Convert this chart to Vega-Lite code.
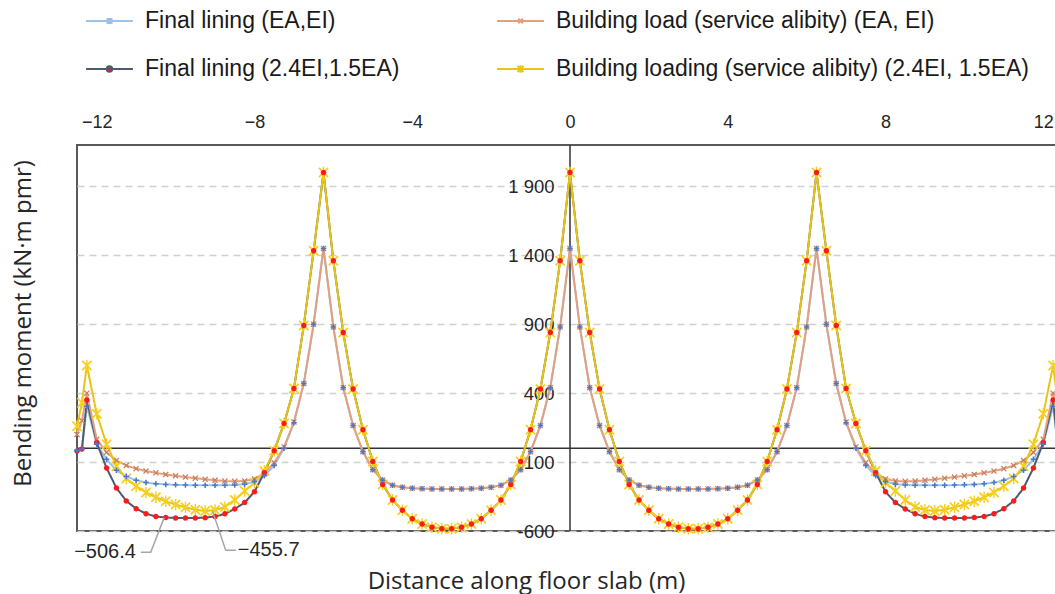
{
  "$schema": "https://vega.github.io/schema/vega-lite/v6.json",
  "width": 986,
  "height": 386,
  "autosize": {"type": "none"},
  "padding": {"left": 77, "top": 145, "right": 0, "bottom": 63},
  "background": "white",
  "config": {"view": {"stroke": "#595959", "strokeWidth": 2}, "font": "Liberation Sans"},
  "data": {"values": [
    {"s":"A","x":-12.5,"y":-15},{"s":"A","x":-12.375,"y":-5},{"s":"A","x":-12.25,"y":305},{"s":"A","x":-12,"y":30},{"s":"A","x":-11.75,"y":-80},{"s":"A","x":-11.5,"y":-160},{"s":"A","x":-11.25,"y":-205},{"s":"A","x":-11,"y":-232},{"s":"A","x":-10.75,"y":-248},{"s":"A","x":-10.5,"y":-257},{"s":"A","x":-10.25,"y":-262},{"s":"A","x":-10,"y":-265},{"s":"A","x":-9.75,"y":-267},{"s":"A","x":-9.5,"y":-268},{"s":"A","x":-9.25,"y":-268},{"s":"A","x":-9,"y":-268},{"s":"A","x":-8.75,"y":-268},{"s":"A","x":-8.5,"y":-266},{"s":"A","x":-8.25,"y":-260},{"s":"A","x":-8,"y":-242},{"s":"A","x":-7.75,"y":-200},{"s":"A","x":-7.5,"y":-125},{"s":"A","x":-7.25,"y":0},{"s":"A","x":-7,"y":185},{"s":"A","x":-6.75,"y":470},{"s":"A","x":-6.5,"y":900},
    {"s":"A","x":-6.25,"y":1450},{"s":"A","x":-6,"y":880},{"s":"A","x":-5.75,"y":440},{"s":"A","x":-5.5,"y":165},{"s":"A","x":-5.25,"y":-25},{"s":"A","x":-5,"y":-155},{"s":"A","x":-4.75,"y":-230},{"s":"A","x":-4.5,"y":-268},{"s":"A","x":-4.25,"y":-283},{"s":"A","x":-4,"y":-290},{"s":"A","x":-3.75,"y":-293},{"s":"A","x":-3.5,"y":-295},{"s":"A","x":-3.25,"y":-295},{"s":"A","x":-3,"y":-295},{"s":"A","x":-2.75,"y":-295},{"s":"A","x":-2.5,"y":-293},{"s":"A","x":-2.25,"y":-290},{"s":"A","x":-2,"y":-283},{"s":"A","x":-1.75,"y":-268},{"s":"A","x":-1.5,"y":-230},{"s":"A","x":-1.25,"y":-155},{"s":"A","x":-1,"y":-25},{"s":"A","x":-0.75,"y":165},{"s":"A","x":-0.5,"y":440},{"s":"A","x":-0.25,"y":880},
    {"s":"A","x":0,"y":1450},{"s":"A","x":0.25,"y":880},{"s":"A","x":0.5,"y":440},{"s":"A","x":0.75,"y":165},{"s":"A","x":1,"y":-25},{"s":"A","x":1.25,"y":-155},{"s":"A","x":1.5,"y":-230},{"s":"A","x":1.75,"y":-268},{"s":"A","x":2,"y":-283},{"s":"A","x":2.25,"y":-290},{"s":"A","x":2.5,"y":-293},{"s":"A","x":2.75,"y":-295},{"s":"A","x":3,"y":-295},{"s":"A","x":3.25,"y":-295},{"s":"A","x":3.5,"y":-295},{"s":"A","x":3.75,"y":-293},{"s":"A","x":4,"y":-290},{"s":"A","x":4.25,"y":-283},{"s":"A","x":4.5,"y":-268},{"s":"A","x":4.75,"y":-230},{"s":"A","x":5,"y":-155},{"s":"A","x":5.25,"y":-25},{"s":"A","x":5.5,"y":165},{"s":"A","x":5.75,"y":440},{"s":"A","x":6,"y":880},{"s":"A","x":6.25,"y":1450},
    {"s":"A","x":6.5,"y":900},{"s":"A","x":6.75,"y":470},{"s":"A","x":7,"y":185},{"s":"A","x":7.25,"y":0},{"s":"A","x":7.5,"y":-125},{"s":"A","x":7.75,"y":-200},{"s":"A","x":8,"y":-242},{"s":"A","x":8.25,"y":-260},{"s":"A","x":8.5,"y":-266},{"s":"A","x":8.75,"y":-268},{"s":"A","x":9,"y":-268},{"s":"A","x":9.25,"y":-268},{"s":"A","x":9.5,"y":-268},{"s":"A","x":9.75,"y":-267},{"s":"A","x":10,"y":-265},{"s":"A","x":10.25,"y":-262},{"s":"A","x":10.5,"y":-257},{"s":"A","x":10.75,"y":-248},{"s":"A","x":11,"y":-232},{"s":"A","x":11.25,"y":-205},{"s":"A","x":11.5,"y":-160},{"s":"A","x":11.75,"y":-80},{"s":"A","x":12,"y":30},{"s":"A","x":12.25,"y":305},{"s":"A","x":12.375,"y":-5},{"s":"A","x":12.5,"y":-15},

    {"s":"B","x":-12.5,"y":-20},{"s":"B","x":-12.375,"y":-5},{"s":"B","x":-12.25,"y":350},{"s":"B","x":-12,"y":40},{"s":"B","x":-11.75,"y":-143},{"s":"B","x":-11.5,"y":-288},{"s":"B","x":-11.25,"y":-382},{"s":"B","x":-11,"y":-438},{"s":"B","x":-10.75,"y":-474},{"s":"B","x":-10.5,"y":-495},{"s":"B","x":-10.25,"y":-502},{"s":"B","x":-10,"y":-505},{"s":"B","x":-9.75,"y":-506.4},{"s":"B","x":-9.5,"y":-506},{"s":"B","x":-9.25,"y":-503},{"s":"B","x":-9,"y":-495},{"s":"B","x":-8.75,"y":-475},{"s":"B","x":-8.5,"y":-440},{"s":"B","x":-8.25,"y":-394},{"s":"B","x":-8,"y":-315},{"s":"B","x":-7.75,"y":-177},{"s":"B","x":-7.5,"y":-18},{"s":"B","x":-7.25,"y":180},{"s":"B","x":-7,"y":433},{"s":"B","x":-6.75,"y":890},{"s":"B","x":-6.5,"y":1432},
    {"s":"B","x":-6.25,"y":2000},{"s":"B","x":-6,"y":1360},{"s":"B","x":-5.75,"y":840},{"s":"B","x":-5.5,"y":430},{"s":"B","x":-5.25,"y":135},{"s":"B","x":-5,"y":-95},{"s":"B","x":-4.75,"y":-262},{"s":"B","x":-4.5,"y":-375},{"s":"B","x":-4.25,"y":-450},{"s":"B","x":-4,"y":-512},{"s":"B","x":-3.75,"y":-550},{"s":"B","x":-3.5,"y":-572},{"s":"B","x":-3.25,"y":-583},{"s":"B","x":-3,"y":-583},{"s":"B","x":-2.75,"y":-572},{"s":"B","x":-2.5,"y":-550},{"s":"B","x":-2.25,"y":-512},{"s":"B","x":-2,"y":-450},{"s":"B","x":-1.75,"y":-375},{"s":"B","x":-1.5,"y":-262},{"s":"B","x":-1.25,"y":-95},{"s":"B","x":-1,"y":135},{"s":"B","x":-0.75,"y":430},{"s":"B","x":-0.5,"y":840},{"s":"B","x":-0.25,"y":1360},
    {"s":"B","x":0,"y":2000},{"s":"B","x":0.25,"y":1360},{"s":"B","x":0.5,"y":840},{"s":"B","x":0.75,"y":430},{"s":"B","x":1,"y":135},{"s":"B","x":1.25,"y":-95},{"s":"B","x":1.5,"y":-262},{"s":"B","x":1.75,"y":-375},{"s":"B","x":2,"y":-450},{"s":"B","x":2.25,"y":-512},{"s":"B","x":2.5,"y":-550},{"s":"B","x":2.75,"y":-572},{"s":"B","x":3,"y":-583},{"s":"B","x":3.25,"y":-583},{"s":"B","x":3.5,"y":-572},{"s":"B","x":3.75,"y":-550},{"s":"B","x":4,"y":-512},{"s":"B","x":4.25,"y":-450},{"s":"B","x":4.5,"y":-375},{"s":"B","x":4.75,"y":-262},{"s":"B","x":5,"y":-95},{"s":"B","x":5.25,"y":135},{"s":"B","x":5.5,"y":430},{"s":"B","x":5.75,"y":840},{"s":"B","x":6,"y":1360},{"s":"B","x":6.25,"y":2000},
    {"s":"B","x":6.5,"y":1432},{"s":"B","x":6.75,"y":890},{"s":"B","x":7,"y":433},{"s":"B","x":7.25,"y":180},{"s":"B","x":7.5,"y":-18},{"s":"B","x":7.75,"y":-177},{"s":"B","x":8,"y":-315},{"s":"B","x":8.25,"y":-394},{"s":"B","x":8.5,"y":-440},{"s":"B","x":8.75,"y":-475},{"s":"B","x":9,"y":-495},{"s":"B","x":9.25,"y":-503},{"s":"B","x":9.5,"y":-506},{"s":"B","x":9.75,"y":-506.4},{"s":"B","x":10,"y":-505},{"s":"B","x":10.25,"y":-502},{"s":"B","x":10.5,"y":-495},{"s":"B","x":10.75,"y":-474},{"s":"B","x":11,"y":-438},{"s":"B","x":11.25,"y":-382},{"s":"B","x":11.5,"y":-288},{"s":"B","x":11.75,"y":-143},{"s":"B","x":12,"y":40},{"s":"B","x":12.25,"y":350},{"s":"B","x":12.375,"y":-5},{"s":"B","x":12.5,"y":-20},

    {"s":"C","x":-12.5,"y":100},{"s":"C","x":-12.375,"y":200},{"s":"C","x":-12.25,"y":400},{"s":"C","x":-12,"y":65},{"s":"C","x":-11.75,"y":-30},{"s":"C","x":-11.5,"y":-88},{"s":"C","x":-11.25,"y":-125},{"s":"C","x":-11,"y":-148},{"s":"C","x":-10.75,"y":-165},{"s":"C","x":-10.5,"y":-178},{"s":"C","x":-10.25,"y":-190},{"s":"C","x":-10,"y":-200},{"s":"C","x":-9.75,"y":-209},{"s":"C","x":-9.5,"y":-217},{"s":"C","x":-9.25,"y":-225},{"s":"C","x":-9,"y":-232},{"s":"C","x":-8.75,"y":-238},{"s":"C","x":-8.5,"y":-240},{"s":"C","x":-8.25,"y":-237},{"s":"C","x":-8,"y":-222},{"s":"C","x":-7.75,"y":-180},{"s":"C","x":-7.5,"y":-105},{"s":"C","x":-7.25,"y":10},{"s":"C","x":-7,"y":190},{"s":"C","x":-6.75,"y":470},{"s":"C","x":-6.5,"y":900},
    {"s":"C","x":-6.25,"y":1450},{"s":"C","x":-6,"y":880},{"s":"C","x":-5.75,"y":440},{"s":"C","x":-5.5,"y":165},{"s":"C","x":-5.25,"y":-25},{"s":"C","x":-5,"y":-155},{"s":"C","x":-4.75,"y":-230},{"s":"C","x":-4.5,"y":-268},{"s":"C","x":-4.25,"y":-283},{"s":"C","x":-4,"y":-290},{"s":"C","x":-3.75,"y":-293},{"s":"C","x":-3.5,"y":-295},{"s":"C","x":-3.25,"y":-295},{"s":"C","x":-3,"y":-295},{"s":"C","x":-2.75,"y":-295},{"s":"C","x":-2.5,"y":-293},{"s":"C","x":-2.25,"y":-290},{"s":"C","x":-2,"y":-283},{"s":"C","x":-1.75,"y":-268},{"s":"C","x":-1.5,"y":-230},{"s":"C","x":-1.25,"y":-155},{"s":"C","x":-1,"y":-25},{"s":"C","x":-0.75,"y":165},{"s":"C","x":-0.5,"y":440},{"s":"C","x":-0.25,"y":880},
    {"s":"C","x":0,"y":1450},{"s":"C","x":0.25,"y":880},{"s":"C","x":0.5,"y":440},{"s":"C","x":0.75,"y":165},{"s":"C","x":1,"y":-25},{"s":"C","x":1.25,"y":-155},{"s":"C","x":1.5,"y":-230},{"s":"C","x":1.75,"y":-268},{"s":"C","x":2,"y":-283},{"s":"C","x":2.25,"y":-290},{"s":"C","x":2.5,"y":-293},{"s":"C","x":2.75,"y":-295},{"s":"C","x":3,"y":-295},{"s":"C","x":3.25,"y":-295},{"s":"C","x":3.5,"y":-295},{"s":"C","x":3.75,"y":-293},{"s":"C","x":4,"y":-290},{"s":"C","x":4.25,"y":-283},{"s":"C","x":4.5,"y":-268},{"s":"C","x":4.75,"y":-230},{"s":"C","x":5,"y":-155},{"s":"C","x":5.25,"y":-25},{"s":"C","x":5.5,"y":165},{"s":"C","x":5.75,"y":440},{"s":"C","x":6,"y":880},{"s":"C","x":6.25,"y":1450},
    {"s":"C","x":6.5,"y":900},{"s":"C","x":6.75,"y":470},{"s":"C","x":7,"y":190},{"s":"C","x":7.25,"y":10},{"s":"C","x":7.5,"y":-105},{"s":"C","x":7.75,"y":-180},{"s":"C","x":8,"y":-222},{"s":"C","x":8.25,"y":-237},{"s":"C","x":8.5,"y":-240},{"s":"C","x":8.75,"y":-238},{"s":"C","x":9,"y":-232},{"s":"C","x":9.25,"y":-225},{"s":"C","x":9.5,"y":-217},{"s":"C","x":9.75,"y":-209},{"s":"C","x":10,"y":-200},{"s":"C","x":10.25,"y":-190},{"s":"C","x":10.5,"y":-178},{"s":"C","x":10.75,"y":-165},{"s":"C","x":11,"y":-148},{"s":"C","x":11.25,"y":-125},{"s":"C","x":11.5,"y":-88},{"s":"C","x":11.75,"y":-30},{"s":"C","x":12,"y":65},{"s":"C","x":12.25,"y":400},{"s":"C","x":12.375,"y":200},{"s":"C","x":12.5,"y":100},

    {"s":"D","x":-12.5,"y":160},{"s":"D","x":-12.375,"y":330},{"s":"D","x":-12.25,"y":600},{"s":"D","x":-12,"y":250},{"s":"D","x":-11.75,"y":30},{"s":"D","x":-11.5,"y":-130},{"s":"D","x":-11.25,"y":-220},{"s":"D","x":-11,"y":-275},{"s":"D","x":-10.75,"y":-320},{"s":"D","x":-10.5,"y":-355},{"s":"D","x":-10.25,"y":-385},{"s":"D","x":-10,"y":-408},{"s":"D","x":-9.75,"y":-428},{"s":"D","x":-9.5,"y":-445},{"s":"D","x":-9.25,"y":-455.7},{"s":"D","x":-9,"y":-448},{"s":"D","x":-8.75,"y":-425},{"s":"D","x":-8.5,"y":-375},{"s":"D","x":-8.25,"y":-310},{"s":"D","x":-8,"y":-250},{"s":"D","x":-7.75,"y":-165},{"s":"D","x":-7.5,"y":-18},{"s":"D","x":-7.25,"y":180},{"s":"D","x":-7,"y":433},{"s":"D","x":-6.75,"y":890},{"s":"D","x":-6.5,"y":1432},
    {"s":"D","x":-6.25,"y":2000},{"s":"D","x":-6,"y":1360},{"s":"D","x":-5.75,"y":840},{"s":"D","x":-5.5,"y":430},{"s":"D","x":-5.25,"y":135},{"s":"D","x":-5,"y":-95},{"s":"D","x":-4.75,"y":-262},{"s":"D","x":-4.5,"y":-375},{"s":"D","x":-4.25,"y":-450},{"s":"D","x":-4,"y":-512},{"s":"D","x":-3.75,"y":-550},{"s":"D","x":-3.5,"y":-572},{"s":"D","x":-3.25,"y":-583},{"s":"D","x":-3,"y":-583},{"s":"D","x":-2.75,"y":-572},{"s":"D","x":-2.5,"y":-550},{"s":"D","x":-2.25,"y":-512},{"s":"D","x":-2,"y":-450},{"s":"D","x":-1.75,"y":-375},{"s":"D","x":-1.5,"y":-262},{"s":"D","x":-1.25,"y":-95},{"s":"D","x":-1,"y":135},{"s":"D","x":-0.75,"y":430},{"s":"D","x":-0.5,"y":840},{"s":"D","x":-0.25,"y":1360},
    {"s":"D","x":0,"y":2000},{"s":"D","x":0.25,"y":1360},{"s":"D","x":0.5,"y":840},{"s":"D","x":0.75,"y":430},{"s":"D","x":1,"y":135},{"s":"D","x":1.25,"y":-95},{"s":"D","x":1.5,"y":-262},{"s":"D","x":1.75,"y":-375},{"s":"D","x":2,"y":-450},{"s":"D","x":2.25,"y":-512},{"s":"D","x":2.5,"y":-550},{"s":"D","x":2.75,"y":-572},{"s":"D","x":3,"y":-583},{"s":"D","x":3.25,"y":-583},{"s":"D","x":3.5,"y":-572},{"s":"D","x":3.75,"y":-550},{"s":"D","x":4,"y":-512},{"s":"D","x":4.25,"y":-450},{"s":"D","x":4.5,"y":-375},{"s":"D","x":4.75,"y":-262},{"s":"D","x":5,"y":-95},{"s":"D","x":5.25,"y":135},{"s":"D","x":5.5,"y":430},{"s":"D","x":5.75,"y":840},{"s":"D","x":6,"y":1360},{"s":"D","x":6.25,"y":2000},
    {"s":"D","x":6.5,"y":1432},{"s":"D","x":6.75,"y":890},{"s":"D","x":7,"y":433},{"s":"D","x":7.25,"y":180},{"s":"D","x":7.5,"y":-18},{"s":"D","x":7.75,"y":-165},{"s":"D","x":8,"y":-250},{"s":"D","x":8.25,"y":-310},{"s":"D","x":8.5,"y":-375},{"s":"D","x":8.75,"y":-425},{"s":"D","x":9,"y":-448},{"s":"D","x":9.25,"y":-455.7},{"s":"D","x":9.5,"y":-445},{"s":"D","x":9.75,"y":-428},{"s":"D","x":10,"y":-408},{"s":"D","x":10.25,"y":-385},{"s":"D","x":10.5,"y":-355},{"s":"D","x":10.75,"y":-320},{"s":"D","x":11,"y":-275},{"s":"D","x":11.25,"y":-220},{"s":"D","x":11.5,"y":-130},{"s":"D","x":11.75,"y":30},{"s":"D","x":12,"y":250},{"s":"D","x":12.25,"y":600},{"s":"D","x":12.375,"y":330},{"s":"D","x":12.5,"y":160}
  ]},
  "layer": [
    {
      "data": {"values": [{}]},
      "mark": {"type": "rule", "color": "#333333", "strokeWidth": 1.5},
      "encoding": {"y": {"datum": 0, "type": "quantitative", "scale": {"domain": [-600, 2200], "nice": false, "zero": false}}}
    },
    {
      "data": {"values": [{}]},
      "mark": {"type": "rule", "color": "#333333", "strokeWidth": 1.5},
      "encoding": {"x": {"datum": 0, "type": "quantitative", "scale": {"domain": [-12.5, 12.5], "nice": false, "zero": false}}}
    },
    {
      "mark": {"type": "line", "strokeWidth": 2},
      "encoding": {
        "x": {"field": "x", "type": "quantitative", "scale": {"domain": [-12.5, 12.5], "nice": false, "zero": false},
          "axis": {"orient": "top", "values": [-12, -8, -4, 0, 4, 8, 12], "labelExpr": "datum.value < 0 ? '−' + abs(datum.value) : '' + datum.value",
            "ticks": false, "tickSize": 0, "domain": false, "grid": false, "labelPadding": 14, "labelFont": "Liberation Sans", "labelFontSize": 18, "labelColor": "#262626", "labelFlush": false,
            "title": "Distance along floor slab (m)", "titleFont": "Open Sans", "titleFontSize": 24, "titleFontWeight": "normal", "titleColor": "#262626",
            "titleX": 449, "titleY": 443, "titleBaseline": "alphabetic", "titleAlign": "center"}},
        "y": {"field": "y", "type": "quantitative", "scale": {"domain": [-600, 2200], "nice": false, "zero": false},
          "axis": {"orient": "left", "offset": -493, "values": [-600, -100, 400, 900, 1400, 1900],
            "labelExpr": "abs(datum.value) >= 1000 ? replace(format(datum.value, ','), ',', ' ') : '' + datum.value",
            "ticks": false, "tickSize": 0, "domain": false, "grid": true, "gridColor": "#d0d0d0", "gridDash": [7, 5], "gridWidth": 1.5,
            "labelPadding": 16, "labelFont": "Liberation Sans", "labelFontSize": 18.5, "labelColor": "#262626", "labelOverlap": false,
            "title": "Bending moment (kN·m pmr)", "titleFont": "Open Sans", "titleFontSize": 24, "titleFontWeight": "normal", "titleColor": "#262626",
            "titleX": -540, "titleY": 178, "titleAngle": 270, "titleBaseline": "alphabetic", "titleAlign": "center"}},
        "stroke": {"field": "s", "type": "nominal",
          "scale": {"domain": ["A", "B", "C", "D"], "range": ["#9dc3e6", "#4d5b6e", "#e3a07f", "#e8c414"]},
          "legend": {"orient": "none", "legendX": 8, "legendY": -148.5, "values": ["A", "B"], "title": null, "padding": 0,
            "labelExpr": "datum.value === 'A' ? 'Final lining (EA,EI)' : 'Final lining (2.4EI,1.5EA)'",
            "labelFont": "Liberation Sans", "labelFontSize": 23, "labelColor": "#1a1a1a", "labelOffset": 11, "labelLimit": 700,
            "symbolSize": 2200, "rowPadding": 11,
            "encode": {"symbols": {"update": {
              "shape": {"signal": "datum.value === 'A' ? 'M-1,0H1M-0.09,-0.09H0.09V0.09H-0.09Z' : 'M-1,0H1M0.12,0A0.12,0.12 0 1,1 -0.12,0A0.12,0.12 0 1,1 0.12,0Z'"},
              "stroke": {"signal": "datum.value === 'A' ? '#9dc3e6' : '#4d5b6e'"},
              "fill": {"signal": "datum.value === 'A' ? '#4a78c8' : '#ff1a1a'"},
              "strokeWidth": {"value": 1.8},
              "opacity": {"value": 1}}}}}},
        "strokeDash": {"field": "s", "type": "nominal",
          "scale": {"domain": ["C", "D", "A", "B"], "range": [[1, 0], [1, 0], [1, 0], [1, 0]]},
          "legend": {"orient": "none", "legendX": 419, "legendY": -148.5, "values": ["C", "D"], "title": null, "padding": 0,
            "labelExpr": "datum.value === 'C' ? 'Building load (service alibity) (EA, EI)' : 'Building loading (service alibity) (2.4EI, 1.5EA)'",
            "labelFont": "Liberation Sans", "labelFontSize": 23, "labelColor": "#1a1a1a", "labelOffset": 11, "labelLimit": 700,
            "symbolSize": 2200, "rowPadding": 11,
            "encode": {"symbols": {"update": {
              "shape": {"signal": "datum.value === 'C' ? 'M-1,0H1M-0.1,-0.1L0.1,0.1M-0.1,0.1L0.1,-0.1' : 'M-1,0H1M-0.13,-0.13L0.13,0.13M-0.13,0.13L0.13,-0.13M0,-0.16V0.16'"},
              "stroke": {"signal": "datum.value === 'C' ? '#e3a07f' : '#e8c414'"},
              "fill": {"value": "transparent"},
              "strokeWidth": {"value": 2},
              "opacity": {"value": 1}}}}}}
      }
    },
    {
      "mark": {"type": "point", "filled": true, "size": 100, "opacity": 1, "strokeWidth": 0},
      "encoding": {
        "x": {"field": "x", "type": "quantitative", "scale": {"domain": [-12.5, 12.5], "nice": false, "zero": false}},
        "y": {"field": "y", "type": "quantitative", "scale": {"domain": [-600, 2200], "nice": false, "zero": false}},
        "fill": {"field": "s", "type": "nominal",
          "scale": {"domain": ["B", "A", "D", "C"], "range": ["#ff1a1a", "#4a78c8", "#f7cf1c", "#c8805c"]},
          "legend": null},
        "shape": {"field": "s", "type": "nominal",
          "scale": {"domain": ["D", "C", "B", "A"], "range": [
            "M-1.05,-0.8L-0.8,-1.05L0,-0.25L0.8,-1.05L1.05,-0.8L0.25,0L1.05,0.8L0.8,1.05L0,0.25L-0.8,1.05L-1.05,0.8L-0.25,0ZM-0.14,-1.15H0.14V1.15H-0.14Z",
            "M-0.6,-0.42L-0.42,-0.6L0,-0.18L0.42,-0.6L0.6,-0.42L0.18,0L0.6,0.42L0.42,0.6L0,0.18L-0.42,0.6L-0.6,0.42L-0.18,0Z",
            "M0.55,0A0.55,0.55 0 1,1 -0.55,0A0.55,0.55 0 1,1 0.55,0Z",
            "M-0.55,-0.15H-0.15V-0.55H0.15V-0.15H0.55V0.15H0.15V0.55H-0.15V0.15H-0.55Z"]},
          "legend": null},
        "order": {"field": "s", "sort": "descending"}
      }
    },
    {
      "data": {"values": [
        {"g": 1, "x": -10.88, "y": -755}, {"g": 1, "x": -10.63, "y": -755}, {"g": 1, "x": -10.29, "y": -503},
        {"g": 2, "x": -9.065, "y": -454}, {"g": 2, "x": -8.73, "y": -739}, {"g": 2, "x": -8.47, "y": -739}
      ]},
      "mark": {"type": "line", "color": "#a6a6a6", "strokeWidth": 1.5},
      "encoding": {
        "x": {"field": "x", "type": "quantitative", "scale": {"domain": [-12.5, 12.5], "nice": false, "zero": false}},
        "y": {"field": "y", "type": "quantitative", "scale": {"domain": [-600, 2200], "nice": false, "zero": false}},
        "detail": {"field": "g", "type": "nominal"}
      }
    },
    {
      "data": {"values": [
        {"x": -11.79, "y": -752, "t": "−506.4"},
        {"x": -7.64, "y": -737, "t": "−455.7"}
      ]},
      "mark": {"type": "text", "font": "Liberation Sans", "fontSize": 20, "color": "#262626", "align": "center", "baseline": "middle"},
      "encoding": {
        "x": {"field": "x", "type": "quantitative", "scale": {"domain": [-12.5, 12.5], "nice": false, "zero": false}},
        "y": {"field": "y", "type": "quantitative", "scale": {"domain": [-600, 2200], "nice": false, "zero": false}},
        "text": {"field": "t", "type": "nominal"}
      }
    }
  ]
}
